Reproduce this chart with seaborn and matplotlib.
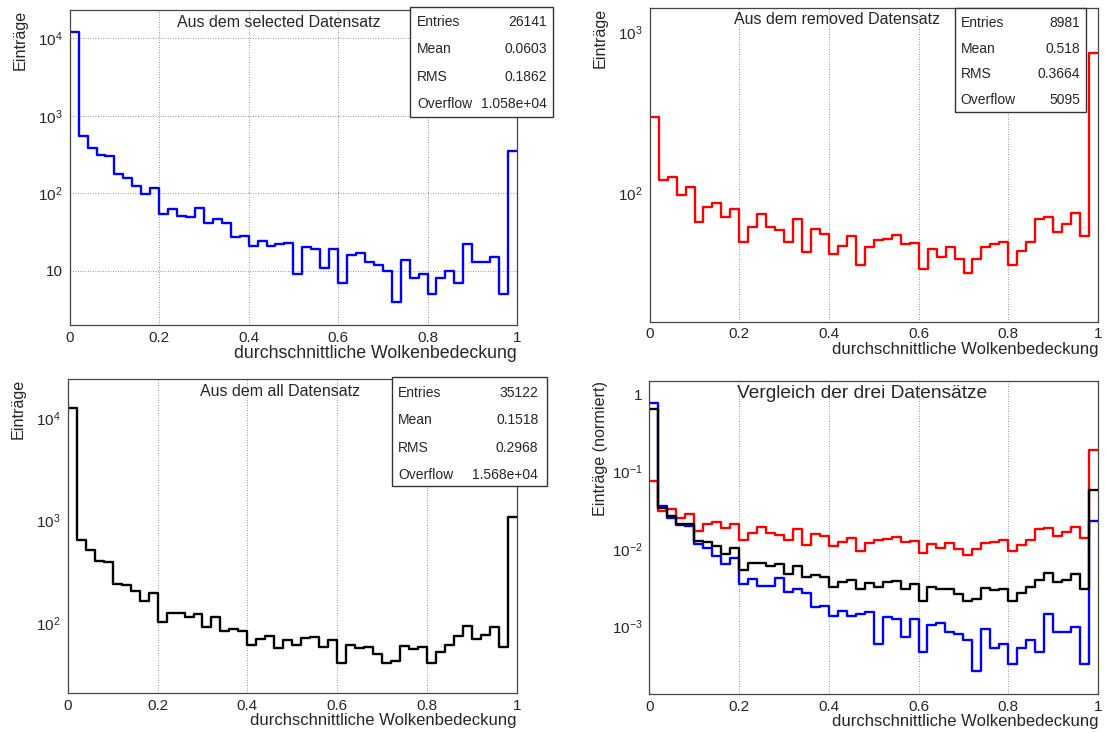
import numpy as np
import pandas as pd
import matplotlib
matplotlib.use("Agg")
import matplotlib.pyplot as plt
from matplotlib.ticker import (FixedLocator, FixedFormatter, AutoMinorLocator,
                               LogLocator, NullFormatter)
from matplotlib.patches import Rectangle
import seaborn as sns

# ---------------- data ----------------
n_bins = 50
x_lo, x_hi = 0.0, 1.0
bin_width = (x_hi - x_lo) / n_bins
bin_centers = x_lo + bin_width * (np.arange(n_bins) + 0.5)

selected_counts = [11950, 542, 380, 312, 299, 177, 156, 123, 98, 118,
                   54, 63, 51, 50, 65, 42, 46, 41, 27, 28,
                   21, 24, 21, 22, 23, 9, 20, 19, 11, 19,
                   7, 16, 17, 13, 12, 10, 4, 14, 8, 9,
                   5, 8, 10, 7, 22, 13, 13, 15, 5, 354]
removed_counts = [296, 121, 127, 98, 109, 66, 82, 87, 71, 80,
                  50, 62, 74, 62, 59, 50, 69, 43, 60, 56,
                  42, 47, 54, 36, 46, 51, 52, 55, 48, 49,
                  34, 45, 40, 46, 39, 32, 39, 46, 48, 50,
                  36, 44, 50, 69, 71, 57, 64, 75, 54, 745]
all_counts = [12330, 649, 511, 405, 399, 242, 236, 208, 166, 199,
              103, 126, 126, 114, 124, 92, 115, 84, 87, 84,
              62, 71, 75, 58, 69, 61, 72, 74, 59, 68,
              41, 61, 58, 59, 50, 41, 43, 60, 56, 59,
              41, 52, 61, 75, 93, 71, 77, 91, 59, 1094]

titles = ["Aus dem selected Datensatz", "Aus dem removed Datensatz",
          "Aus dem all Datensatz", "Vergleich der drei Datensätze"]
x_label = "durchschnittliche Wolkenbedeckung"
y_label = "Einträge"
y_label_norm = "Einträge (normiert)"

stat_names = ["Entries", "Mean", "RMS", "Overflow"]
stats_selected = ["26141", "0.0603", "0.1862", "1.058e+04"]
stats_removed = ["8981", "0.518", "0.3664", "5095"]
stats_all = ["35122", "0.1518", "0.2968", "1.568e+04"]

x_ticks = [0, 0.2, 0.4, 0.6, 0.8, 1.0]
x_tick_labels = ["0", "0.2", "0.4", "0.6", "0.8", "1"]
y_ticks_sel = [10, 100, 1000, 10000]
y_labels_sel = ["10", r"$\mathdefault{10^{2}}$", r"$\mathdefault{10^{3}}$", r"$\mathdefault{10^{4}}$"]
y_ticks_rem = [100, 1000]
y_labels_rem = [r"$\mathdefault{10^{2}}$", r"$\mathdefault{10^{3}}$"]
y_ticks_all = [100, 1000, 10000]
y_labels_all = [r"$\mathdefault{10^{2}}$", r"$\mathdefault{10^{3}}$", r"$\mathdefault{10^{4}}$"]
y_ticks_norm = [1e-3, 1e-2, 1e-1, 1]
y_labels_norm = [r"$\mathdefault{10^{-3}}$", r"$\mathdefault{10^{-2}}$", r"$\mathdefault{10^{-1}}$", "1"]

ylim_sel = (2.0, 23200)
ylim_rem = (15.9, 1410)
ylim_all = (20.8, 23700)
ylim_norm = (1.32e-4, 1.49)

# ---------------- style ----------------
sns.set_style("white")
plt.rcParams['font.family'] = ['Liberation Sans', 'DejaVu Sans']
plt.rcParams['mathtext.fontset'] = 'custom'
plt.rcParams['mathtext.rm'] = 'Liberation Sans'
plt.rcParams['mathtext.it'] = 'Liberation Sans:italic'
plt.rcParams['mathtext.default'] = 'regular'

W, H = 1105, 733
fig = plt.figure(figsize=(W / 100, H / 100), dpi=100)
fig.patch.set_facecolor('white')


def px_axes(l, t, r, b):
    return fig.add_axes([l / W, 1 - b / H, (r - l) / W, (b - t) / H])


def draw_hist(ax, counts, color, stat="count"):
    df = pd.DataFrame({"x": bin_centers, "w": counts})
    n_before = len(ax.lines)
    sns.histplot(data=df, x="x", weights="w", bins=n_bins, binrange=(x_lo, x_hi),
                 element="step", fill=False, color=color, linewidth=1.7,
                 stat=stat, ax=ax)
    # ROOT-style outline: no drop to the baseline at the outer edges
    for line in ax.lines[n_before:]:
        xd, yd = np.asarray(line.get_xdata()), np.asarray(line.get_ydata())
        keep = yd > 0
        line.set_data(xd[keep], yd[keep])


def style_axes(ax, yticks, ylabels, ylim, ylab, xlab_size, grid_y=False):
    ax.set_yscale("log")
    ax.set_xlim(x_lo, x_hi)
    ax.set_ylim(*ylim)
    ax.xaxis.set_major_locator(FixedLocator(x_ticks))
    ax.xaxis.set_major_formatter(FixedFormatter(x_tick_labels))
    ax.xaxis.set_minor_locator(AutoMinorLocator(4))
    ax.yaxis.set_major_locator(FixedLocator(yticks))
    ax.yaxis.set_major_formatter(FixedFormatter(ylabels))
    ax.yaxis.set_minor_locator(LogLocator(base=10, subs=range(2, 10), numticks=30))
    ax.yaxis.set_minor_formatter(NullFormatter())
    ax.tick_params(axis="both", which="both", direction="in", top=False, right=False,
                   labelsize=11, color="#333333", width=0.8)
    ax.tick_params(axis="x", which="major", length=6.7, pad=4)
    ax.tick_params(axis="y", which="major", length=6.7, pad=5)
    ax.tick_params(which="minor", length=3.5)
    for sp in ax.spines.values():
        sp.set_color("#444444")
        sp.set_linewidth(0.9)
        sp.set_visible(True)
    ax.set_axisbelow(True)
    ax.grid(True, which="major", axis="both" if grid_y else "x",
            linestyle=(0, (1, 2)), color="#777777", linewidth=0.6)
    ax.set_xlabel(x_label, loc="right", fontsize=xlab_size)
    ax.xaxis.set_label_coords(1.0, -0.064)
    ax.set_ylabel(ylab, loc="top", fontsize=11.6)
    ax.yaxis.set_label_coords(-0.093, 1.0)


def stats_box(l, t, r, b, label_x, value_x, baselines, values):
    fig.add_artist(Rectangle((l / W, 1 - b / H), (r - l) / W, (b - t) / H,
                             transform=fig.transFigure, facecolor="white",
                             edgecolor="#333333", linewidth=1.0, zorder=5))
    for bl, lab, val in zip(baselines, stat_names, values):
        fig.text(label_x / W, 1 - bl / H, lab, ha="left", va="baseline",
                 fontsize=10, zorder=6)
        fig.text(value_x / W, 1 - bl / H, val, ha="right", va="baseline",
                 fontsize=10, zorder=6)


ax1 = px_axes(69.7, 10, 517, 325)
ax2 = px_axes(649.7, 8.3, 1098, 321.7)
ax3 = px_axes(67.7, 379.3, 517, 693.3)
ax4 = px_axes(649.3, 380.7, 1098, 694)

draw_hist(ax1, selected_counts, "#0000ff")
style_axes(ax1, y_ticks_sel, y_labels_sel, ylim_sel, y_label, 12.8, grid_y=True)

draw_hist(ax2, removed_counts, "#ff0000")
style_axes(ax2, y_ticks_rem, y_labels_rem, ylim_rem, y_label, 12)

draw_hist(ax3, all_counts, "#000000")
style_axes(ax3, y_ticks_all, y_labels_all, ylim_all, y_label, 12)

draw_hist(ax4, selected_counts, "#0000ff", stat="probability")
draw_hist(ax4, removed_counts, "#ff0000", stat="probability")
draw_hist(ax4, all_counts, "#000000", stat="probability")
style_axes(ax4, y_ticks_norm, y_labels_norm, ylim_norm, y_label_norm, 12)

# titles
fig.text(279 / W, 1 - 26.7 / H, titles[0], ha="center", va="baseline", fontsize=11.5)
fig.text(837.5 / W, 1 - 24 / H, titles[1], ha="center", va="baseline", fontsize=11.5)
fig.text(280 / W, 1 - 396 / H, titles[2], ha="center", va="baseline", fontsize=11.5)
fig.text(861.7 / W, 1 - 398.3 / H, titles[3], ha="center", va="baseline", fontsize=13.8)

# statistics boxes
stats_box(410.3, 7.3, 553.3, 117.3, 417.3, 546.7, [26, 53.3, 81, 108.3], stats_selected)
stats_box(954.7, 8, 1086, 112.3, 960.7, 1080, [26.7, 52.7, 78.3, 104.3], stats_removed)
stats_box(391.7, 377.3, 546.7, 486, 398.3, 538.3, [397.3, 424.3, 451.7, 478.7], stats_all)

fig.savefig("out.png", dpi=100, facecolor="white")
